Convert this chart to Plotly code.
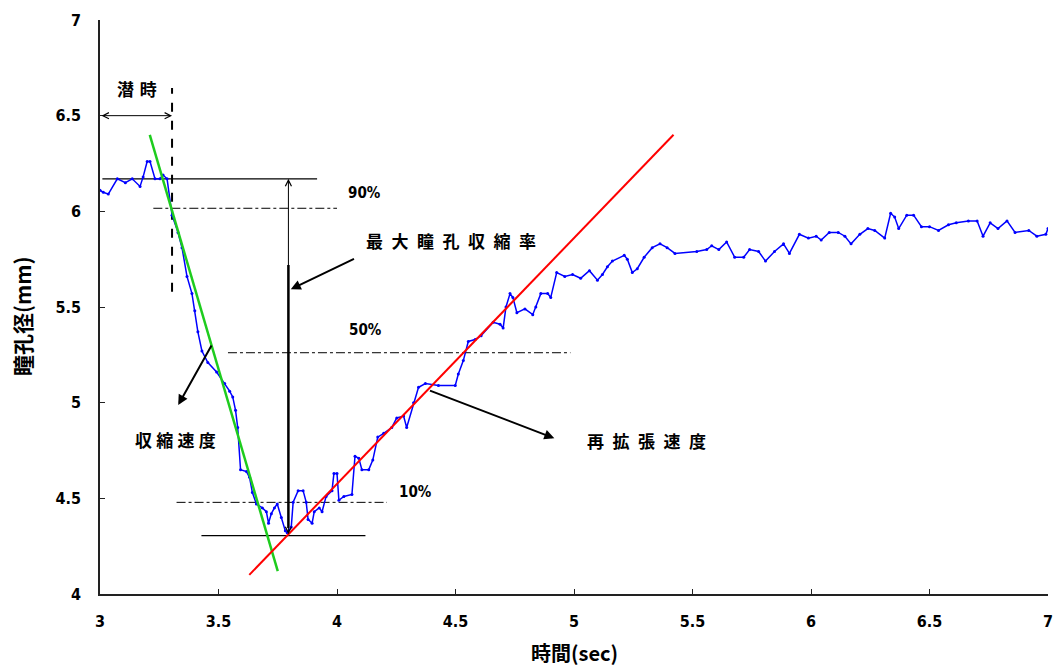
import plotly.graph_objects as go

# Pupil diameter trace (time in sec, diameter in mm)
time_s = [3.000, 3.014, 3.035, 3.073, 3.107, 3.136, 3.169, 3.182, 3.199, 3.211,
          3.232, 3.253, 3.266, 3.283, 3.304, 3.329, 3.346, 3.367, 3.388, 3.400,
          3.413, 3.430, 3.455, 3.492, 3.526, 3.547, 3.560, 3.572, 3.581, 3.593,
          3.618, 3.631, 3.643, 3.660, 3.685, 3.702, 3.711, 3.723, 3.736, 3.748,
          3.765, 3.782, 3.790, 3.807, 3.815, 3.836, 3.857, 3.870, 3.878, 3.895,
          3.904, 3.925, 3.937, 3.954, 3.979, 3.987, 4.000, 4.008, 4.029, 4.063,
          4.076, 4.092, 4.105, 4.134, 4.151, 4.172, 4.197, 4.231, 4.252, 4.281,
          4.294, 4.323, 4.344, 4.373, 4.428, 4.499, 4.512, 4.533, 4.554, 4.583,
          4.608, 4.659, 4.688, 4.701, 4.713, 4.730, 4.742, 4.759, 4.793, 4.826,
          4.839, 4.860, 4.889, 4.902, 4.927, 4.961, 4.994, 5.028, 5.065, 5.099,
          5.120, 5.141, 5.162, 5.212, 5.225, 5.246, 5.267, 5.296, 5.330, 5.363,
          5.393, 5.426, 5.518, 5.560, 5.581, 5.611, 5.644, 5.678, 5.716, 5.741,
          5.779, 5.808, 5.846, 5.884, 5.909, 5.951, 5.989, 6.022, 6.043, 6.077,
          6.115, 6.143, 6.169, 6.206, 6.240, 6.269, 6.311, 6.336, 6.353, 6.370,
          6.404, 6.433, 6.466, 6.500, 6.538, 6.580, 6.613, 6.664, 6.701, 6.726,
          6.756, 6.789, 6.827, 6.861, 6.919, 6.953, 6.991, 7.000]
diameter_mm = [6.11, 6.10, 6.09, 6.17, 6.15, 6.17, 6.13, 6.18, 6.26, 6.26,
               6.17, 6.17, 6.19, 6.17, 5.98, 5.89, 5.81, 5.66, 5.57, 5.48,
               5.37, 5.27, 5.21, 5.16, 5.10, 5.06, 5.03, 4.96, 4.87, 4.65,
               4.64, 4.61, 4.53, 4.47, 4.45, 4.43, 4.37, 4.42, 4.45, 4.47,
               4.40, 4.33, 4.32, 4.35, 4.48, 4.54, 4.54, 4.48, 4.39, 4.37,
               4.43, 4.45, 4.43, 4.51, 4.54, 4.63, 4.63, 4.49, 4.51, 4.52,
               4.72, 4.71, 4.65, 4.65, 4.70, 4.82, 4.84, 4.87, 4.92, 4.93,
               4.87, 5.00, 5.08, 5.10, 5.09, 5.09, 5.15, 5.22, 5.32, 5.33,
               5.35, 5.42, 5.41, 5.39, 5.50, 5.57, 5.55, 5.47, 5.49, 5.46,
               5.50, 5.57, 5.57, 5.55, 5.68, 5.66, 5.67, 5.65, 5.69, 5.64,
               5.67, 5.71, 5.74, 5.77, 5.75, 5.68, 5.70, 5.76, 5.81, 5.83,
               5.81, 5.78, 5.79, 5.80, 5.82, 5.80, 5.84, 5.76, 5.76, 5.80,
               5.79, 5.74, 5.79, 5.83, 5.78, 5.88, 5.86, 5.87, 5.85, 5.89,
               5.89, 5.87, 5.83, 5.88, 5.91, 5.90, 5.86, 5.99, 5.97, 5.91,
               5.98, 5.98, 5.92, 5.92, 5.90, 5.93, 5.94, 5.95, 5.95, 5.87,
               5.94, 5.91, 5.95, 5.89, 5.90, 5.87, 5.88, 5.91]

# Fitted constriction / re-dilation velocity lines (endpoints)
constrict_t = [3.21, 3.75]
constrict_d = [6.40, 4.12]
redilate_t = [3.63, 5.42]
redilate_d = [4.10, 6.40]

# Reference levels
baseline_mm = 6.17
baseline_t = [3.01, 3.916]
minimum_mm = 4.305
minimum_t = [3.428, 4.12]
pct90_mm, pct90_t = 6.016, [3.225, 4.0]
pct50_mm, pct50_t = 5.261, [3.54, 4.985]
pct10_mm, pct10_t = 4.479, [3.323, 4.211]
latency_t = 3.304
latency_span = [5.58, 6.645]
latency_arrow_mm = 6.5
max_arrow_t = 3.795
max_arrow_bold_top = 5.72

x_ticks = [3, 3.5, 4, 4.5, 5, 5.5, 6, 6.5, 7]
x_tick_text = ["3", "3.5", "4", "4.5", "5", "5.5", "6", "6.5", "7"]
y_ticks = [4, 4.5, 5, 5.5, 6, 6.5, 7]
y_tick_text = ["4", "4.5", "5", "5.5", "6", "6.5", "7"]

NUM_FONT = "Liberation Sans Narrow, DejaVu Sans Condensed, Liberation Sans, Arial"
CJK_FONT = "Noto Sans CJK JP"

fig = go.Figure()

def seg(xs, ys, color="black", width=1.2, dash="solid"):
    fig.add_trace(go.Scatter(x=xs, y=ys, mode="lines", hoverinfo="skip",
                             line=dict(color=color, width=width, dash=dash)))

# horizontal guides
seg(baseline_t, [baseline_mm, baseline_mm])
seg(minimum_t, [minimum_mm, minimum_mm])
seg(pct90_t, [pct90_mm, pct90_mm], width=1, dash="dashdot")
seg(pct50_t, [pct50_mm, pct50_mm], width=1, dash="dashdot")
seg(pct10_t, [pct10_mm, pct10_mm], width=1, dash="dashdot")
# latency marker
seg([latency_t, latency_t], latency_span, width=2, dash="dash")
# bold part of the max-constriction arrow
seg([max_arrow_t, max_arrow_t], [max_arrow_bold_top, minimum_mm + 0.04], width=2.5)

# pupil trace
fig.add_trace(go.Scatter(x=time_s, y=diameter_mm, mode="lines+markers",
                         line=dict(color="#0000FF", width=1.5),
                         marker=dict(color="#0000FF", size=3),
                         hoverinfo="skip"))

# velocity fits
seg(constrict_t, constrict_d, color="#1ECC1E", width=2.5)
seg(redilate_t, redilate_d, color="#FF0000", width=2)

ann = []

def arrow(x, y, ax, ay, head=2, side="end", width=2, size=1.0):
    ann.append(dict(x=x, y=y, ax=ax, ay=ay, xref="x", yref="y", axref="x", ayref="y",
                    text="", showarrow=True, arrowhead=head, startarrowhead=head,
                    arrowside=side, arrowwidth=width, arrowsize=size,
                    arrowcolor="black", standoff=0, startstandoff=0))

def label(x, y, text, font=CJK_FONT, size=17):
    ann.append(dict(x=x, y=y, xref="x", yref="y", text=text, showarrow=False,
                    font=dict(family=font, size=size, color="black", weight="bold")))

# latency double arrow
arrow(latency_t, latency_arrow_mm, 3.0, latency_arrow_mm, head=5, side="end+start", width=1, size=1.2)
# max constriction double arrow
arrow(max_arrow_t, baseline_mm, max_arrow_t, minimum_mm, head=5, side="end+start", width=1, size=1.2)
# pointer arrows
arrow(3.805, 5.593, 4.078, 5.755)
arrow(3.330, 4.988, 3.474, 5.307)
arrow(4.917, 4.814, 4.386, 5.066)

label(3.157, 6.64, "潜\u2004時")
label(4.479, 5.85, "最\u2002大\u2002瞳\u2002孔\u2002収\u2002縮\u2002率")
label(3.317, 4.805, "収\u2005縮\u2005速\u2005度")
label(5.305, 4.80, "再\u2002拡\u2002張\u2002速\u2002度")
label(4.118, 6.096, "90%", font=NUM_FONT, size=15)
label(4.12, 5.38, "50%", font=NUM_FONT, size=15)
label(4.33, 4.535, "10%", font=NUM_FONT, size=15)

# axis titles
ann.append(dict(x=0.5, y=0, xref="paper", yref="paper", yshift=-42, xanchor="center",
                yanchor="top", text="時間(sec)", showarrow=False,
                font=dict(family=CJK_FONT, size=20, color="black", weight="bold")))
ann.append(dict(x=0, y=0.5, xref="paper", yref="paper", xshift=-78, yshift=-10,
                xanchor="center", yanchor="middle", text="瞳孔径(mm)", textangle=-90,
                showarrow=False,
                font=dict(family=CJK_FONT, size=21, color="black", weight="bold")))

axis_common = dict(showgrid=False, zeroline=False, showline=True, linecolor="#222",
                   linewidth=1.5, ticks="inside", ticklen=5, tickwidth=1,
                   tickcolor="#222",
                   tickfont=dict(family=NUM_FONT, size=16, color="black", weight="bold"))

fig.update_layout(
    width=1059, height=668,
    margin=dict(l=100, r=6, t=20, b=74),
    paper_bgcolor="white", plot_bgcolor="white",
    showlegend=False,
    annotations=ann,
    xaxis=dict(range=[3, 7], tickvals=x_ticks, ticktext=x_tick_text,
               ticklabelstandoff=12, **axis_common),
    yaxis=dict(range=[4, 7], tickvals=y_ticks, ticktext=y_tick_text,
               ticklabelstandoff=14, **axis_common),
)

fig.write_html("out.html")
